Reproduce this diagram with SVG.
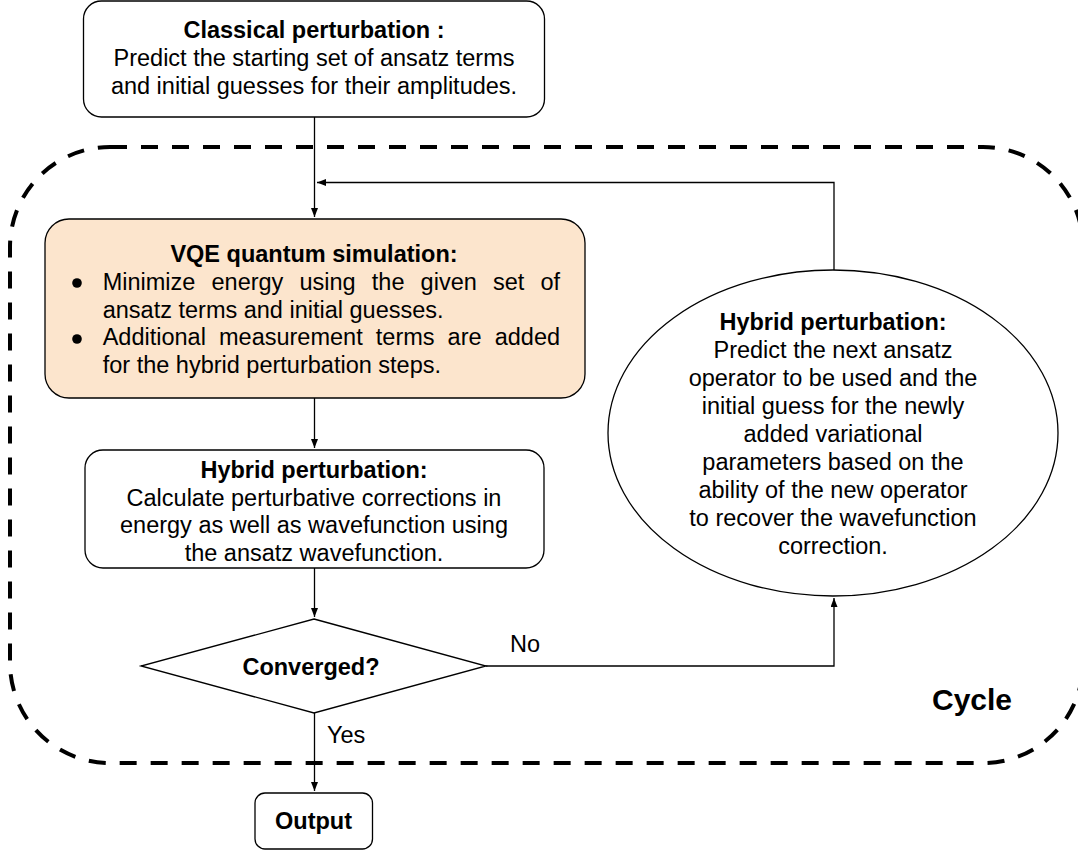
<svg xmlns="http://www.w3.org/2000/svg" width="1078" height="852" viewBox="0 0 1078 852">
<defs>
<style>
text{font-family:"Liberation Sans",Arial,sans-serif;font-size:23.5px;fill:#000}
.b{font-weight:bold}
.m{text-anchor:middle}
.box{fill:#fff;stroke:#000;stroke-width:1.3}
.ln{fill:none;stroke:#000;stroke-width:1.3}
</style>
<marker id="ah" markerUnits="userSpaceOnUse" markerWidth="10" markerHeight="8" refX="9" refY="3.5" orient="auto">
<path d="M0,0 L9,3.5 L0,7 z" fill="#000"/>
</marker>
</defs>
<rect width="1078" height="852" fill="#fff"/>
<g id="cycle">
<rect x="10" y="147" width="1073" height="616" rx="100" ry="100" fill="none" stroke="#000" stroke-width="4" stroke-dasharray="17 14"/>
<text class="b" x="932" y="710" style="font-size:30px">Cycle</text>
</g>
<g id="connectors">
<path class="ln" d="M314.5 117 V217" marker-end="url(#ah)"/>
<path class="ln" d="M834 270 V182.5 H317" marker-end="url(#ah)"/>
<path class="ln" d="M314.5 398 V448" marker-end="url(#ah)"/>
<path class="ln" d="M314.5 568 V617" marker-end="url(#ah)"/>
<path class="ln" d="M486 666 H834 V598" marker-end="url(#ah)"/>
<path class="ln" d="M314.5 713 V791" marker-end="url(#ah)"/>
<text x="510" y="652">No</text>
<text x="327" y="743">Yes</text>
</g>
<g id="classical">
<rect class="box" x="83.5" y="1" width="461" height="116" rx="18"/>
<text class="b m" x="314" y="38">Classical perturbation :</text>
<text class="m" x="314" y="66">Predict the starting set of ansatz terms</text>
<text class="m" x="314" y="94">and initial guesses for their amplitudes.</text>
</g>
<g id="vqe">
<rect x="45" y="219" width="540" height="179" rx="24" fill="#FCE5CD" stroke="#000" stroke-width="1.3"/>
<text class="b m" x="314" y="262">VQE quantum simulation:</text>
<circle cx="77" cy="283" r="4.8"/>
<circle cx="77" cy="339" r="4.8"/>
<text y="290"><tspan x="102.7">Minimize</tspan><tspan x="211.5">energy</tspan><tspan x="299.5">using</tspan><tspan x="371.8">the</tspan><tspan x="420.6">given</tspan><tspan x="492.9">set</tspan><tspan x="540.4">of</tspan></text>
<text x="102.7" y="318">ansatz terms and initial guesses.</text>
<text y="345"><tspan x="102.7">Additional</tspan><tspan x="219">measurement</tspan><tspan x="375.8">terms</tspan><tspan x="447.6">are</tspan><tspan x="494.7">added</tspan></text>
<text x="102.7" y="373">for the hybrid perturbation steps.</text>
</g>
<g id="hybrid1">
<rect class="box" x="85" y="450" width="459" height="118" rx="18"/>
<text class="b m" x="314" y="478">Hybrid perturbation:</text>
<text class="m" x="314" y="506">Calculate perturbative corrections in</text>
<text class="m" x="314" y="533">energy as well as wavefunction using</text>
<text class="m" x="314" y="561">the ansatz wavefunction.</text>
</g>
<g id="converged">
<polygon class="box" points="314,619 486,666 314,713 141,666"/>
<text class="b m" x="311" y="675">Converged?</text>
</g>
<g id="output">
<rect class="box" x="255" y="793" width="117.5" height="56" rx="10"/>
<text class="b m" x="313.5" y="829">Output</text>
</g>
<g id="hybrid2">
<ellipse class="box" cx="833" cy="433" rx="225" ry="163"/>
<text class="b m" x="833" y="330">Hybrid perturbation:</text>
<text class="m" x="833" y="358">Predict the next ansatz</text>
<text class="m" x="833" y="386">operator to be used and the</text>
<text class="m" x="833" y="414">initial guess for the newly</text>
<text class="m" x="833" y="442">added variational</text>
<text class="m" x="833" y="470">parameters based on the</text>
<text class="m" x="833" y="498">ability of the new operator</text>
<text class="m" x="833" y="526">to recover the wavefunction</text>
<text class="m" x="833" y="554">correction.</text>
</g>
</svg>
